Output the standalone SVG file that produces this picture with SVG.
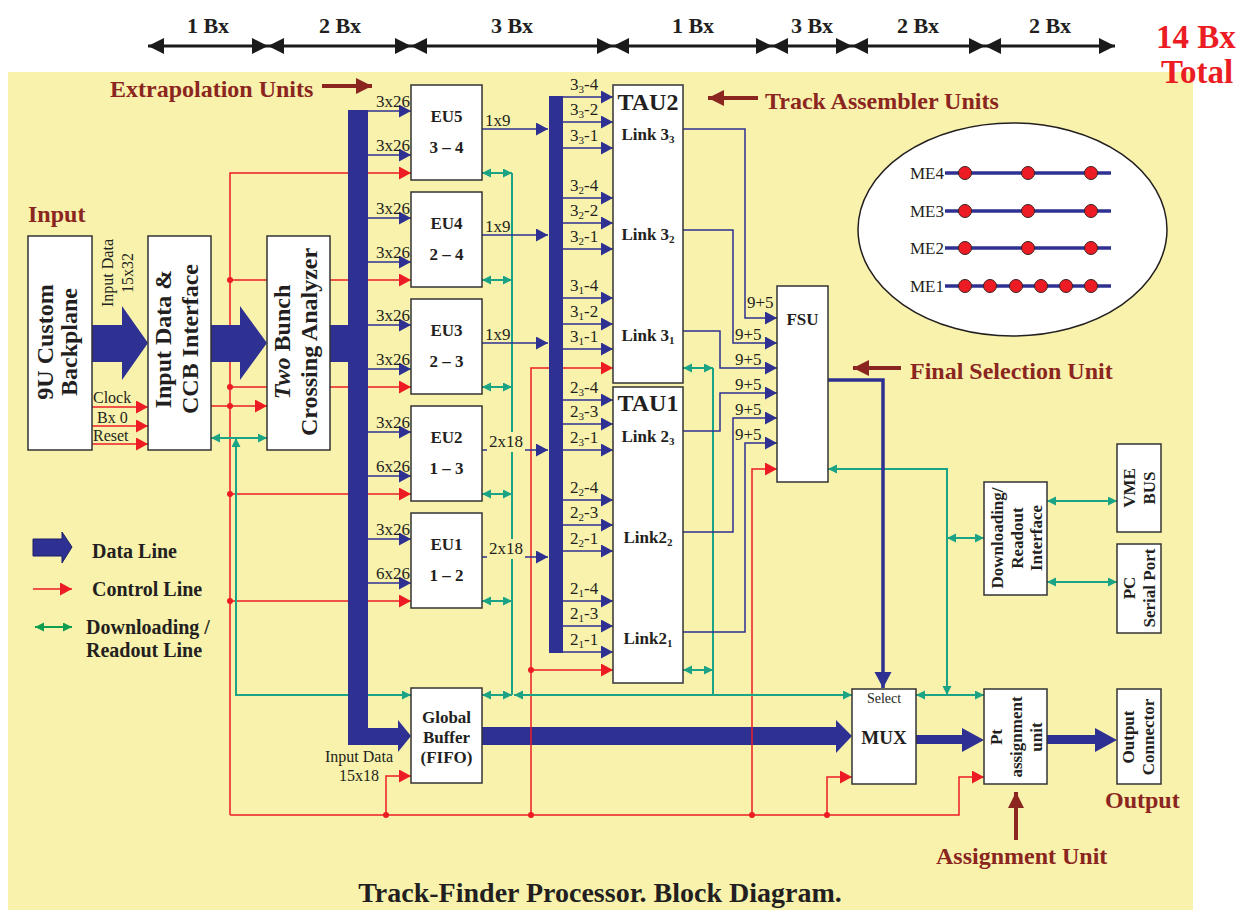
<svg xmlns="http://www.w3.org/2000/svg" width="1241" height="910" viewBox="0 0 1241 910">
<style>
text{font-family:"Liberation Serif","Times New Roman",serif;fill:#231F20}
.b{font-weight:bold}
.box{fill:#fff;stroke:#333;stroke-width:1.5}
.bl{fill:none;stroke:#2E3192;stroke-width:1.5;marker-end:url(#ab)}
.rd{fill:none;stroke:#ED1C24;stroke-width:1.5;marker-end:url(#ar)}
.rn{fill:none;stroke:#ED1C24;stroke-width:1.5}
.gr{fill:none;stroke:#1BA385;stroke-width:2}
.g2{marker-start:url(#ag);marker-end:url(#ag)}
.data{fill:#2E3192}
.dot{fill:#ED1C24}
.lab{font-size:17px}
.sub{font-size:11px}
.ann{font-size:24px;font-weight:bold;fill:#8B2520}
.tl{font-size:22px;font-weight:bold}
.nt{font-size:17px;font-weight:bold;text-anchor:middle}
.big{font-size:24px;font-weight:bold;text-anchor:middle}
.leg{font-size:20px;font-weight:bold}
</style>
<defs>
<marker id="ab" markerUnits="userSpaceOnUse" markerWidth="13" markerHeight="13" refX="12" refY="6.5" orient="auto"><path d="M0,0 L12,6.5 L0,13 z" fill="#2E3192"/></marker>
<marker id="ar" markerUnits="userSpaceOnUse" markerWidth="13" markerHeight="13" refX="12" refY="6.5" orient="auto"><path d="M0,0 L12,6.5 L0,13 z" fill="#ED1C24"/></marker>
<marker id="ag" markerUnits="userSpaceOnUse" markerWidth="10" markerHeight="10" refX="9" refY="4.5" orient="auto-start-reverse"><path d="M0,0 L9,4.5 L0,9 z" fill="#1BA385"/></marker>
<marker id="agl" markerUnits="userSpaceOnUse" markerWidth="10" markerHeight="10" refX="9" refY="4.5" orient="auto-start-reverse"><path d="M0,0 L9,4.5 L0,9 z" fill="#0D9E50"/></marker>
<marker id="ak" markerUnits="userSpaceOnUse" markerWidth="17" markerHeight="17" refX="16" refY="8" orient="auto-start-reverse"><path d="M0,0 L16,8 L0,16 z" fill="#1a1a1a"/></marker>
<marker id="ad" markerUnits="userSpaceOnUse" markerWidth="17" markerHeight="17" refX="16" refY="8" orient="auto"><path d="M0,0 L16,8 L0,16 z" fill="#8B2520"/></marker>
<marker id="abig" markerUnits="userSpaceOnUse" markerWidth="17" markerHeight="18" refX="16" refY="8.5" orient="auto"><path d="M0,0 L16,8.5 L0,17 z" fill="#2E3192"/></marker>
</defs>

<rect x="8" y="72" width="1185" height="838" fill="#F8F2AC"/>

<!-- timeline -->
<g id="timeline">
<g fill="none" stroke="#1a1a1a" stroke-width="3" marker-start="url(#ak)" marker-end="url(#ak)">
<path d="M148 46H268"/><path d="M268 46H411"/><path d="M411 46H613"/><path d="M613 46H772"/><path d="M772 46H852"/><path d="M852 46H985"/><path d="M985 46H1115"/>
</g>
<g class="tl" text-anchor="middle">
<text x="208" y="33">1 Bx</text><text x="340" y="33">2 Bx</text><text x="512" y="33">3 Bx</text><text x="693" y="33">1 Bx</text><text x="812" y="33">3 Bx</text><text x="918" y="33">2 Bx</text><text x="1050" y="33">2 Bx</text>
</g>
<text x="1196" y="48" text-anchor="middle" font-size="33" font-weight="bold" style="fill:#EC1C24">14 Bx</text>
<text x="1197" y="83" text-anchor="middle" font-size="33" font-weight="bold" style="fill:#EC1C24">Total</text>
</g>

<!-- annotations -->
<g id="annotations">
<text class="ann" x="110" y="97">Extrapolation Units</text>
<path d="M322 86H372" stroke="#8B2520" stroke-width="4" marker-end="url(#ad)"/>
<text class="ann" x="765" y="109">Track Assembler Units</text>
<path d="M758 98H708" stroke="#8B2520" stroke-width="4" marker-end="url(#ad)"/>
<text class="ann" x="910" y="379">Final Selection Unit</text>
<path d="M901 368H853" stroke="#8B2520" stroke-width="4" marker-end="url(#ad)"/>
<text class="ann" x="28" y="222">Input</text>
<text class="ann" x="1105" y="808">Output</text>
<text class="ann" x="936" y="864">Assignment Unit</text>
<path d="M1016 840V792" stroke="#8B2520" stroke-width="4" marker-end="url(#ad)"/>
<text x="600" y="902" text-anchor="middle" font-size="28" font-weight="bold">Track-Finder Processor. Block Diagram.</text>
</g>

<!-- connectors -->
<g id="connectors">
<!-- data line GB to MUX (under red lines) -->
<polygon class="data" points="482,727 836,727 836,720 852,736 836,753 836,745 482,745"/>
<!-- red control lines -->
<g class="rd">
<path d="M92 407H148"/><path d="M92 426H148"/><path d="M92 444H148"/>
<path d="M230 815V173H411"/>
<path d="M230 280H411"/><path d="M230 387H411"/><path d="M230 494H411"/><path d="M230 601H411"/>
<path d="M211 406H267"/>
<path d="M230 815H959V777H984"/>
<path d="M386 815V776H411"/>
<path d="M531 815V368H613"/>
<path d="M531 670H613"/>
<path d="M752 815V469H777"/>
<path d="M827 815V777H852"/>
</g>
<g class="dot">
<circle cx="230" cy="280" r="3"/><circle cx="230" cy="387" r="3"/><circle cx="230" cy="406" r="3"/><circle cx="230" cy="494" r="3"/><circle cx="230" cy="601" r="3"/>
<circle cx="386" cy="815" r="3"/><circle cx="531" cy="815" r="3"/><circle cx="531" cy="670" r="3"/><circle cx="752" cy="815" r="3"/><circle cx="827" cy="815" r="3"/>
</g>
<!-- green downloading/readout lines -->
<g class="gr">
<path class="g2" d="M211 438H267"/>
<path class="g2" d="M236 438V695H411"/>
<path class="g2" d="M482 695H512"/>
<path class="g2" d="M514 695H852"/>
<path d="M512 173V695"/>
<path class="g2" d="M482 173H512"/><path class="g2" d="M482 280H512"/><path class="g2" d="M482 387H512"/><path class="g2" d="M482 494H512"/><path class="g2" d="M482 601H512"/>
<path d="M713 368V695"/>
<path class="g2" d="M683 368H713"/><path class="g2" d="M683 670H713"/>
<path class="g2" d="M828 469H947V695"/>
<path class="g2" d="M916 695H984"/>
<path class="g2" d="M947 538H984"/>
<path class="g2" d="M1047 501H1117"/>
<path class="g2" d="M1047 582H1117"/>
</g>
<!-- blue signal lines -->
<g class="bl">
<path d="M368 111H411"/><path d="M368 155H411"/><path d="M368 218H411"/><path d="M368 262H411"/><path d="M368 325H411"/><path d="M368 369H411"/><path d="M368 432H411"/><path d="M368 476H411"/><path d="M368 539H411"/><path d="M368 583H411"/>
<path d="M482 129H548"/><path d="M482 235H548"/><path d="M482 343H548"/><path d="M482 450H548"/><path d="M482 557H548"/>
<path d="M563 97H613"/><path d="M563 122H613"/><path d="M563 148H613"/><path d="M563 198H613"/><path d="M563 223H613"/><path d="M563 249H613"/><path d="M563 298H613"/><path d="M563 324H613"/><path d="M563 349H613"/>
<path d="M563 400H613"/><path d="M563 424H613"/><path d="M563 450H613"/><path d="M563 500H613"/><path d="M563 525H613"/><path d="M563 551H613"/><path d="M563 601H613"/><path d="M563 626H613"/><path d="M563 652H613"/>
<path d="M683 129H745V318H777"/>
<path d="M683 230H733V343H777"/>
<path d="M683 331H720V368H777"/>
<path d="M683 431H720V393H777"/>
<path d="M683 532H733V418H777"/>
<path d="M683 632H745V443H777"/>
</g>
<path d="M828 380H883V688" fill="none" stroke="#2E3192" stroke-width="3.5" marker-end="url(#abig)"/>
<!-- data lines -->
<polygon class="data" points="92,325 122,325 122,306 148,343 122,380 122,362 92,362"/>
<polygon class="data" points="211,325 240,325 240,306 267,343 240,380 240,362 211,362"/>
<rect class="data" x="329" y="325" width="20" height="37"/>
<rect class="data" x="348" y="110" width="20" height="635"/>
<polygon class="data" points="348,728 398,728 398,720 411,736 398,752 398,745 348,745"/>
<rect class="data" x="549" y="96" width="14" height="557"/>
<polygon class="data" points="916,735 962,735 962,728 984,740 962,752 962,744 916,744"/>
<polygon class="data" points="1047,735 1095,735 1095,728 1117,740 1095,752 1095,744 1047,744"/>
<!-- labels -->
<g class="lab">
<text x="93" y="403" font-size="16">Clock</text><text x="97" y="423" font-size="16">Bx 0</text><text x="93" y="441" font-size="16">Reset</text>
<g transform="translate(108,273) rotate(-90)" text-anchor="middle" font-size="16"><text x="0" y="4.5">Input Data</text><text x="0" y="25">15x32</text></g>
<text x="376" y="107">3x26</text><text x="376" y="151">3x26</text>
<text x="376" y="214">3x26</text><text x="376" y="258">3x26</text>
<text x="376" y="321">3x26</text><text x="376" y="365">3x26</text>
<text x="376" y="428">3x26</text><text x="376" y="472">6x26</text>
<text x="376" y="535">3x26</text><text x="376" y="579">6x26</text>
<text x="485" y="126">1x9</text><text x="485" y="232">1x9</text><text x="485" y="340">1x9</text>
<rect x="487" y="432" width="38" height="20" fill="#F8F2AC"/><text x="489" y="447">2x18</text>
<rect x="487" y="539" width="38" height="20" fill="#F8F2AC"/><text x="489" y="554">2x18</text>
<text x="570" y="90">3<tspan class="sub" dy="3">3</tspan><tspan dy="-3">-4</tspan></text>
<text x="570" y="115">3<tspan class="sub" dy="3">3</tspan><tspan dy="-3">-2</tspan></text>
<text x="570" y="141">3<tspan class="sub" dy="3">3</tspan><tspan dy="-3">-1</tspan></text>
<text x="570" y="191">3<tspan class="sub" dy="3">2</tspan><tspan dy="-3">-4</tspan></text>
<text x="570" y="216">3<tspan class="sub" dy="3">2</tspan><tspan dy="-3">-2</tspan></text>
<text x="570" y="242">3<tspan class="sub" dy="3">2</tspan><tspan dy="-3">-1</tspan></text>
<text x="570" y="291">3<tspan class="sub" dy="3">1</tspan><tspan dy="-3">-4</tspan></text>
<text x="570" y="317">3<tspan class="sub" dy="3">1</tspan><tspan dy="-3">-2</tspan></text>
<text x="570" y="342">3<tspan class="sub" dy="3">1</tspan><tspan dy="-3">-1</tspan></text>
<text x="570" y="393">2<tspan class="sub" dy="3">3</tspan><tspan dy="-3">-4</tspan></text>
<text x="570" y="417">2<tspan class="sub" dy="3">3</tspan><tspan dy="-3">-3</tspan></text>
<text x="570" y="443">2<tspan class="sub" dy="3">3</tspan><tspan dy="-3">-1</tspan></text>
<text x="570" y="493">2<tspan class="sub" dy="3">2</tspan><tspan dy="-3">-4</tspan></text>
<text x="570" y="518">2<tspan class="sub" dy="3">2</tspan><tspan dy="-3">-3</tspan></text>
<text x="570" y="544">2<tspan class="sub" dy="3">2</tspan><tspan dy="-3">-1</tspan></text>
<text x="570" y="594">2<tspan class="sub" dy="3">1</tspan><tspan dy="-3">-4</tspan></text>
<text x="570" y="619">2<tspan class="sub" dy="3">1</tspan><tspan dy="-3">-3</tspan></text>
<text x="570" y="645">2<tspan class="sub" dy="3">1</tspan><tspan dy="-3">-1</tspan></text>
<text x="747" y="308">9+5</text><text x="735" y="340">9+5</text><text x="735" y="365">9+5</text><text x="735" y="390">9+5</text><text x="735" y="415">9+5</text><text x="735" y="440">9+5</text>
<text x="359" y="762" text-anchor="middle" font-size="16">Input Data</text><text x="359" y="781" text-anchor="middle" font-size="16">15x18</text>
</g>
</g>

<!-- nodes -->
<g id="backplane"><rect class="box" x="28" y="236" width="64" height="214"/>
<g transform="translate(60,342) rotate(-90)" class="big"><text x="0" y="-7">9U Custom</text><text x="0" y="17">Backplane</text></g></g>
<g id="ccb-interface"><rect class="box" x="148" y="236" width="63" height="214"/>
<g transform="translate(179.5,339) rotate(-90)" class="big"><text x="0" y="-8.5">Input Data &amp;</text><text x="0" y="18.5">CCB Interface</text></g></g>
<g id="bx-analyzer"><rect class="box" x="267" y="236" width="63" height="214"/>
<g transform="translate(298.5,342) rotate(-90)" class="big"><text x="0" y="-9"><tspan font-style="italic">Two</tspan> Bunch</text><text x="0" y="18">Crossing Analyzer</text></g></g>

<g id="eu5"><rect class="box" x="411" y="85" width="71" height="95"/><text class="nt" x="446.5" y="122">EU5</text><text class="nt" x="446.5" y="153">3 – 4</text></g>
<g id="eu4"><rect class="box" x="411" y="192" width="71" height="95"/><text class="nt" x="446.5" y="229">EU4</text><text class="nt" x="446.5" y="260">2 – 4</text></g>
<g id="eu3"><rect class="box" x="411" y="299" width="71" height="95"/><text class="nt" x="446.5" y="336">EU3</text><text class="nt" x="446.5" y="367">2 – 3</text></g>
<g id="eu2"><rect class="box" x="411" y="406" width="71" height="95"/><text class="nt" x="446.5" y="443">EU2</text><text class="nt" x="446.5" y="474">1 – 3</text></g>
<g id="eu1"><rect class="box" x="411" y="513" width="71" height="95"/><text class="nt" x="446.5" y="550">EU1</text><text class="nt" x="446.5" y="581">1 – 2</text></g>

<g id="global-buffer"><rect class="box" x="411" y="688" width="71" height="95"/>
<text class="nt" x="446.5" y="723">Global</text><text class="nt" x="446.5" y="743">Buffer</text><text class="nt" x="446.5" y="763">(FIFO)</text></g>

<g id="tau2"><rect class="box" x="613" y="85" width="70" height="298"/>
<text x="648" y="110" text-anchor="middle" font-size="24" font-weight="bold">TAU2</text>
<text class="nt" x="648" y="140">Link 3<tspan class="sub" dy="3">3</tspan></text>
<text class="nt" x="648" y="240">Link 3<tspan class="sub" dy="3">2</tspan></text>
<text class="nt" x="648" y="341">Link 3<tspan class="sub" dy="3">1</tspan></text></g>
<g id="tau1"><rect class="box" x="613" y="387" width="70" height="296"/>
<text x="648" y="411" text-anchor="middle" font-size="24" font-weight="bold">TAU1</text>
<text class="nt" x="648" y="442">Link 2<tspan class="sub" dy="3">3</tspan></text>
<text class="nt" x="648" y="543">Link2<tspan class="sub" dy="3">2</tspan></text>
<text class="nt" x="648" y="644">Link2<tspan class="sub" dy="3">1</tspan></text></g>

<g id="fsu"><rect class="box" x="777" y="286" width="51" height="196"/><text class="nt" x="802.5" y="325">FSU</text></g>

<g id="mux"><rect class="box" x="852" y="689" width="64" height="95"/>
<text x="884" y="703" text-anchor="middle" font-size="14">Select</text>
<text x="884" y="744" text-anchor="middle" font-size="19" font-weight="bold">MUX</text></g>

<g id="pt-assignment"><rect class="box" x="984" y="689" width="63" height="95"/>
<g transform="translate(1015.5,737) rotate(-90)" class="nt"><text x="0" y="-14">Pt</text><text x="0" y="6">assignment</text><text x="0" y="26">unit</text></g></g>

<g id="output-connector"><rect class="box" x="1117" y="689" width="44" height="95"/>
<g transform="translate(1139,737) rotate(-90)" class="nt"><text x="0" y="-5">Output</text><text x="0" y="15">Connector</text></g></g>

<g id="readout-interface"><rect class="box" x="984" y="482" width="63" height="113"/>
<g transform="translate(1015.5,538) rotate(-90)" class="nt"><text x="0" y="-12.5">Downloading/</text><text x="0" y="7.5">Readout</text><text x="0" y="26.5">Interface</text></g></g>

<g id="vme-bus"><rect class="box" x="1117" y="444" width="44" height="88"/>
<g transform="translate(1139,488) rotate(-90)" class="nt"><text x="0" y="-4">VME</text><text x="0" y="16">BUS</text></g></g>

<g id="pc-serial"><rect class="box" x="1117" y="544" width="44" height="89"/>
<g transform="translate(1139,588) rotate(-90)" class="nt"><text x="0" y="-4">PC</text><text x="0" y="16">Serial Port</text></g></g>

<!-- stations ellipse -->
<g id="stations">
<ellipse cx="1012.5" cy="229.5" rx="154.5" ry="106.5" fill="#fff" stroke="#231F20" stroke-width="1.5"/>
<g stroke="#2E3192" stroke-width="3.5"><path d="M945 173H1111"/><path d="M945 211H1111"/><path d="M945 248H1111"/><path d="M945 286H1111"/></g>
<g font-size="17"><text x="910" y="179">ME4</text><text x="910" y="217">ME3</text><text x="910" y="254">ME2</text><text x="910" y="292">ME1</text></g>
<g fill="#ED1C24" stroke="#3a2020" stroke-width="1">
<circle cx="965" cy="173" r="6.5"/><circle cx="1028" cy="173" r="6.5"/><circle cx="1091" cy="173" r="6.5"/>
<circle cx="965" cy="211" r="6.5"/><circle cx="1028" cy="211" r="6.5"/><circle cx="1091" cy="211" r="6.5"/>
<circle cx="965" cy="248" r="6.5"/><circle cx="1028" cy="248" r="6.5"/><circle cx="1091" cy="248" r="6.5"/>
<circle cx="965" cy="286" r="6.5"/><circle cx="990" cy="286" r="6.5"/><circle cx="1016" cy="286" r="6.5"/><circle cx="1041" cy="286" r="6.5"/><circle cx="1066" cy="286" r="6.5"/><circle cx="1091" cy="286" r="6.5"/>
</g>
</g>

<!-- legend -->
<g id="legend">
<polygon points="33,539 62,539 62,532 72,547 62,563 62,556 33,556" fill="#2E3192" stroke="#1c1f66" stroke-width="1"/>
<text class="leg" x="92" y="558">Data Line</text>
<path d="M33 589H72" stroke="#ED1C24" stroke-width="1.5" marker-end="url(#ar)"/>
<text class="leg" x="92" y="596">Control Line</text>
<path d="M35 627H72" stroke="#0D9E50" stroke-width="2" marker-start="url(#agl)" marker-end="url(#agl)"/>
<text class="leg" x="86" y="634">Downloading /</text>
<text class="leg" x="86" y="657">Readout Line</text>
</g>
</svg>
